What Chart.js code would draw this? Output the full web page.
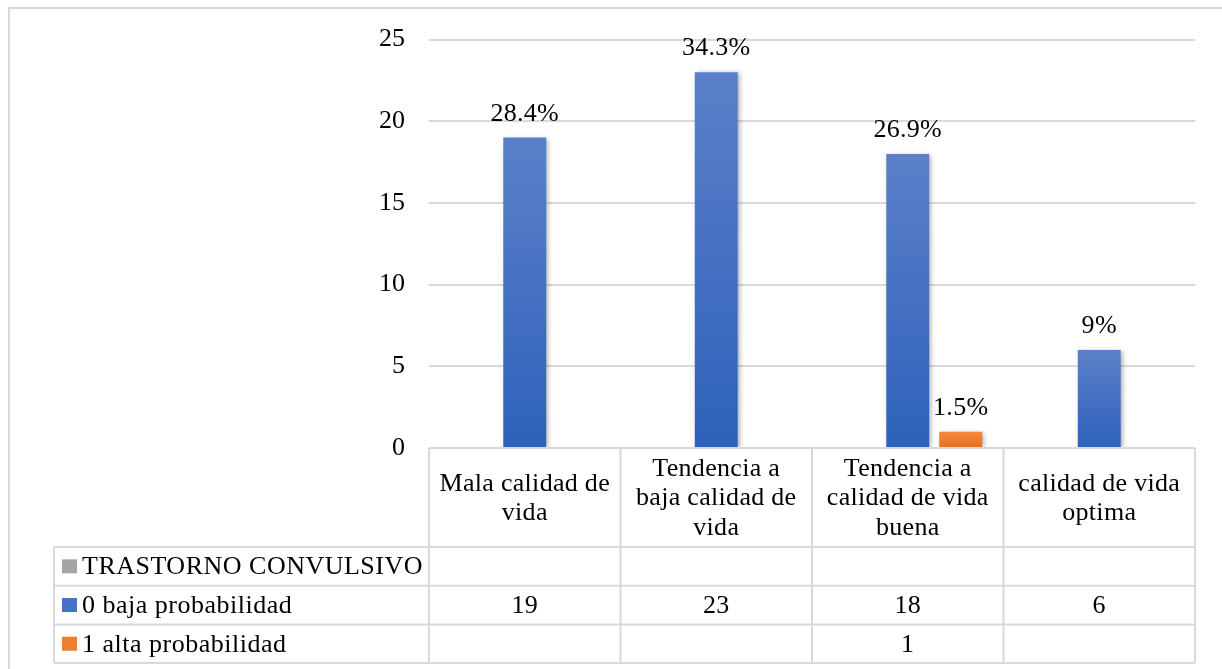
<!DOCTYPE html>
<html>
<head>
<meta charset="utf-8">
<script src="https://cdn.jsdelivr.net/npm/chart.js@4"></script>
<style>
  html, body { margin: 0; padding: 0; background: #ffffff; }
  canvas { display: block; }
</style>
</head>
<body>
<canvas id="chart" width="1222" height="669"></canvas>
<script>
// Categories (multi-line labels shown in the table header row)
const categories = [
  ["Mala calidad de", "vida"],
  ["Tendencia a", "baja calidad de", "vida"],
  ["Tendencia a", "calidad de vida", "buena"],
  ["calidad de vida", "optima"]
];

// Series names
const seriesNames = ["TRASTORNO CONVULSIVO", "0 baja probabilidad", "1 alta probabilidad"];

// Series values
const trastornoValues = [null, null, null, null];
const bajaValues = [19, 23, 18, 6];
const altaValues = [null, null, 1, null];

// Percent labels shown above bars
const bajaPercent = ["28.4%", "34.3%", "26.9%", "9%"];
const altaPercent = [null, null, "1.5%", null];

// Y axis ticks
const yTicks = [0, 5, 10, 15, 20, 25];

const FONT = '"Liberation Serif", "Times New Roman", serif';
const FONT_SIZE = 26;
const GRID = '#d9d9d9';

function gradientFill(top, bottom, solid) {
  return (c) => {
    const chart = c.chart;
    if (!chart.chartArea || c.raw == null) return solid;
    const y = chart.scales.y;
    const t = y.getPixelForValue(c.raw);
    const b = y.getPixelForValue(0);
    const g = chart.ctx.createLinearGradient(0, t, 0, b);
    g.addColorStop(0, top);
    g.addColorStop(1, bottom);
    return g;
  };
}

const seriesColors = ['#a5a5a5', '#4472c4', '#ed7d31'];

// soft drop shadow behind bars
const barShadow = {
  id: 'barShadow',
  beforeDatasetsDraw(chart) {
    const ctx = chart.ctx;
    ctx.save();
    ctx.shadowColor = 'rgba(0,0,0,0.35)';
    ctx.shadowBlur = 5;
    ctx.shadowOffsetX = 2;
    ctx.shadowOffsetY = 1;
  },
  afterDatasetsDraw(chart) {
    chart.ctx.restore();
  }
};

// outer frame, data table and bar labels
const tableAndLabels = {
  id: 'tableAndLabels',
  afterDraw(chart) {
    const ctx = chart.ctx;
    const area = chart.chartArea;
    const x = chart.scales.x;

    // bar labels
    const labelSets = [null, bajaPercent, altaPercent];
    ctx.save();
    ctx.font = FONT_SIZE + 'px ' + FONT;
    ctx.letterSpacing = '0.3px';
    ctx.fillStyle = '#000';
    ctx.textAlign = 'center';
    ctx.textBaseline = 'alphabetic';
    labelSets.forEach((labels, di) => {
      if (!labels) return;
      const meta = chart.getDatasetMeta(di);
      meta.data.forEach((bar, i) => {
        if (labels[i] == null) return;
        ctx.fillText(labels[i], bar.x, bar.y - 17);
      });
    });
    ctx.restore();

    // table geometry
    const n = categories.length;
    const colW = (area.right - area.left) / n;
    const colEdges = [];
    for (let i = 0; i <= n; i++) colEdges.push(area.left + colW * i);
    const headTop = area.bottom;
    const headBottom = 547;
    const rowH = 38.7;
    const rowEdges = [headBottom, headBottom + rowH, headBottom + 2 * rowH, headBottom + 3 * rowH];
    const legendLeft = 54;

    ctx.save();
    ctx.strokeStyle = GRID;
    ctx.lineWidth = 2;

    // outer frame of the chart
    ctx.strokeRect(9, 8, 1240, 700);

    ctx.beginPath();
    // header row box
    ctx.moveTo(area.left, headTop); ctx.lineTo(area.right, headTop);
    colEdges.forEach(cx => { ctx.moveTo(cx, headTop); ctx.lineTo(cx, rowEdges[3]); });
    // data rows
    rowEdges.forEach(ry => { ctx.moveTo(legendLeft, ry); ctx.lineTo(area.right, ry); });
    ctx.moveTo(legendLeft, rowEdges[0]); ctx.lineTo(legendLeft, rowEdges[3]);
    ctx.stroke();

    // header text
    ctx.font = FONT_SIZE + 'px ' + FONT;
    ctx.letterSpacing = '0.3px';
    ctx.fillStyle = '#000';
    ctx.textAlign = 'center';
    ctx.textBaseline = 'middle';
    const lineH = 29.5;
    const headMid = (headTop + headBottom) / 2;
    categories.forEach((lines, i) => {
      const cx = x.getPixelForValue(i);
      const y0 = headMid - (lines.length - 1) * lineH / 2;
      lines.forEach((ln, k) => ctx.fillText(ln, cx, y0 + k * lineH + 1));
    });

    // legend cells and values
    const rows = [trastornoValues, bajaValues, altaValues];
    rows.forEach((vals, r) => {
      const midY = (rowEdges[r] + rowEdges[r + 1]) / 2;
      ctx.fillStyle = seriesColors[r];
      ctx.fillRect(62, midY - 7, 15, 14);
      ctx.fillStyle = '#000';
      ctx.textAlign = 'left';
      ctx.letterSpacing = '0.5px';
      ctx.fillText(seriesNames[r], 82, midY + 1);
      ctx.letterSpacing = '0.3px';
      ctx.textAlign = 'center';
      vals.forEach((v, i) => {
        if (v == null) return;
        ctx.fillText(String(v), x.getPixelForValue(i), midY + 1);
      });
    });
    ctx.restore();
  }
};

new Chart(document.getElementById('chart'), {
  type: 'bar',
  data: {
    labels: categories.map(c => c.join(' ')),
    datasets: [
      {
        label: seriesNames[0],
        data: trastornoValues,
        backgroundColor: seriesColors[0]
      },
      {
        label: seriesNames[1],
        data: bajaValues,
        backgroundColor: gradientFill('#5b80c9', '#2e61bb', seriesColors[1])
      },
      {
        label: seriesNames[2],
        data: altaValues,
        backgroundColor: gradientFill('#f38a40', '#e66f1c', seriesColors[2])
      }
    ]
  },
  options: {
    responsive: false,
    animation: false,
    devicePixelRatio: 1,
    categoryPercentage: 0.83,
    barPercentage: 0.81,
    layout: { padding: { left: 0, top: 39, right: 27, bottom: 221 } },
    plugins: {
      legend: { display: false },
      tooltip: { enabled: false },
      title: { display: false }
    },
    scales: {
      x: {
        display: false
      },
      y: {
        min: 0,
        max: 25,
        afterFit(scale) { scale.width = 429; },
        afterBuildTicks(scale) { scale.ticks = yTicks.map(v => ({ value: v })); },
        border: { display: false },
        grid: { color: GRID, lineWidth: 2, drawTicks: false },
        ticks: {
          padding: 24,
          color: '#000',
          font: { family: FONT, size: FONT_SIZE }
        }
      }
    }
  },
  plugins: [barShadow, tableAndLabels]
});
</script>
</body>
</html>
